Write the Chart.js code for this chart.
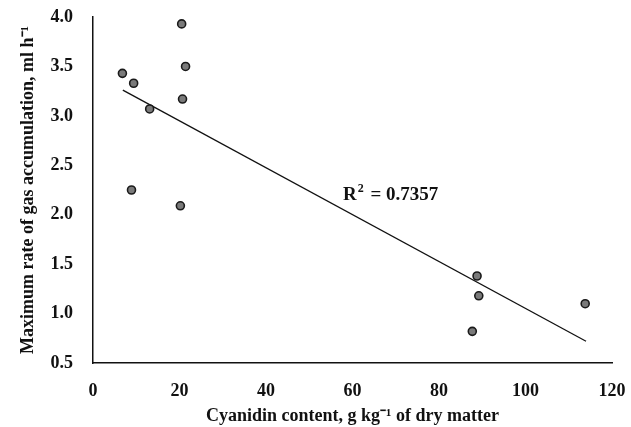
<!DOCTYPE html>
<html>
<head>
<meta charset="utf-8">
<script src="https://cdn.jsdelivr.net/npm/chart.js@4/dist/chart.umd.min.js"></script>
<style>
  html, body { margin: 0; padding: 0; background: #fff; }
  #wrap { width: 631px; height: 427px; }
</style>
</head>
<body>
<div id="wrap"><canvas id="chart" width="631" height="427"></canvas></div>
<script>
// cyanidin content (g/kg DM) vs max rate of gas accumulation (ml/h)
const cyanidin = [6.8, 9.4, 13.1, 20.5, 21.4, 20.7, 8.9, 20.2, 88.8, 89.2, 87.7, 113.8];
const gasRate = [3.43, 3.33, 3.07, 3.93, 3.50, 3.17, 2.25, 2.09, 1.38, 1.18, 0.82, 1.10];

// fitted line as drawn in the figure
const trendX = [6.9, 114];
const trendY = [3.26, 0.72];

const xTicks = [0, 20, 40, 60, 80, 100, 120];
const yTicks = [0.5, 1.0, 1.5, 2.0, 2.5, 3.0, 3.5, 4.0];

const r2Value = '0.7357';
const r2Pos = { x: 57.8, y: 2.21 };

const serif = '"Liberation Serif", "Times New Roman", serif';

// R² annotation with a real superscript
const r2Plugin = {
  id: 'r2Text',
  afterDatasetsDraw(chart) {
    const ctx = chart.ctx;
    let px = chart.scales.x.getPixelForValue(r2Pos.x);
    const py = chart.scales.y.getPixelForValue(r2Pos.y);
    ctx.save();
    ctx.fillStyle = '#111';
    ctx.textAlign = 'left';
    ctx.textBaseline = 'alphabetic';
    ctx.font = 'bold 19px ' + serif;
    ctx.fillText('R', px, py + 6);
    px += ctx.measureText('R').width + 1;
    ctx.font = 'bold 12px ' + serif;
    ctx.fillText('2', px, py - 2);
    px += ctx.measureText('2').width + 2;
    ctx.font = 'bold 19px ' + serif;
    ctx.fillText(' = ' + r2Value, px, py + 6);
    ctx.restore();
  }
};

new Chart(document.getElementById('chart'), {
  type: 'scatter',
  data: {
    datasets: [
      {
        label: 'data',
        data: cyanidin.map((x, i) => ({ x: x, y: gasRate[i] })),
        pointRadius: 4,
        pointBackgroundColor: '#7a7a7a',
        pointBorderColor: '#1a1a1a',
        pointBorderWidth: 1.6,
      },
      {
        label: 'trend',
        type: 'line',
        data: trendX.map((x, i) => ({ x: x, y: trendY[i] })),
        borderColor: '#111',
        borderWidth: 1.3,
        pointRadius: 0,
        fill: false,
      },
    ],
  },
  options: {
    responsive: false,
    animation: false,
    layout: { padding: { top: 17, right: 19, left: 0, bottom: 0 } },
    plugins: { legend: { display: false }, tooltip: { enabled: false } },
    scales: {
      x: {
        type: 'linear',
        min: 0,
        max: 120,
        afterBuildTicks: (s) => { s.ticks = xTicks.map(v => ({ value: v })); },
        afterFit: (s) => { s.height = 64; s.paddingLeft = 0; s.paddingRight = 0; },
        grid: { display: false, drawTicks: true, tickLength: 4, color: '#111' },
        border: { color: '#111', width: 1.5 },
        ticks: {
          color: '#111',
          font: { family: serif, size: 18, weight: 'bold' },
          padding: 14,
          maxRotation: 0,
        },
        title: {
          display: true,
          text: 'Cyanidin content, g kg⁻¹ of dry matter',
          color: '#111',
          font: { family: serif, size: 18, weight: 'bold' },
          padding: { top: 2, bottom: 0 },
        },
      },
      y: {
        type: 'linear',
        min: 0.5,
        max: 4.0,
        afterBuildTicks: (s) => { s.ticks = yTicks.map(v => ({ value: v })); },
        afterFit: (s) => { s.width = 93; s.paddingTop = 0; s.paddingBottom = 0; },
        grid: { display: false, drawTicks: true, tickLength: 4, color: '#111' },
        border: { color: '#111', width: 1.5 },
        ticks: {
          color: '#111',
          font: { family: serif, size: 18, weight: 'bold' },
          padding: 16,
          callback: (v) => v.toFixed(1),
        },
        title: {
          display: true,
          text: 'Maximum rate of gas accumulation, ml h⁻¹',
          color: '#111',
          font: { family: serif, size: 18, weight: 'bold' },
          padding: { top: 18, bottom: 0 },
        },
      },
    },
  },
  plugins: [r2Plugin],
});
</script>
</body>
</html>
